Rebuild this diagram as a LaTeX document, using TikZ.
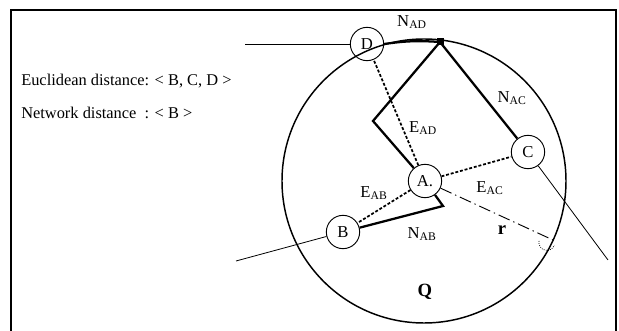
\documentclass[tikz,border=0pt]{standalone}
\usepackage{fontspec}
\setmainfont{Liberation Serif}
\begin{document}
\begin{tikzpicture}[x=0.75pt,y=-0.75pt,
  pt/.style={draw,circle,line width=0.7pt,minimum size=25pt,inner sep=0pt,font=\fontsize{12.5}{13}\selectfont},
  road/.style={line width=0.6pt},
  netroad/.style={line width=1.7pt},
  eucl/.style={line width=1.3pt,dash pattern=on 2.2pt off 1.4pt},
  lab/.style={font=\fontsize{12.5}{13}\selectfont,inner sep=0pt},
  txt/.style={font=\fontsize{12.3}{14}\selectfont,inner sep=0pt,anchor=west}]
\useasboundingbox (0,0) rectangle (619,331);
% frame
\draw[line width=1pt] (11,331) -- (11,10) -- (616,10) -- (616,331);
% region circle
\coordinate (O) at (424,181);
\draw[line width=1.1pt] (O) circle[radius=142];
% coordinates
\coordinate (J) at (440,42);
\coordinate (K) at (373,121);
\coordinate (M) at (443,206);
\coordinate (Dl) at (245,44);
\coordinate (Bl) at (236,261);
\coordinate (Ce) at (608,260);
\coordinate (Re) at (553,240);
% nodes
\node[pt] (D) at (367,44) {D};
\node[pt] (C) at (528,152) {C};
\node[pt] (A) at (425,181) {A.};
\node[pt] (B) at (343,232) {B};
% plain roads
\draw[road] (Dl) -- (D);
\draw[road] (Bl) -- (B);
\draw[road] (C) -- (Ce);
% network paths
\draw[netroad] (D.east) to[bend left=6] (J);
\draw[netroad] (J) -- (C);
\draw[netroad,line join=miter] (J) -- (K) -- (A);
\draw[netroad,line join=miter] (A) -- (M) -- (B);
\fill (J) ++(-3.5,-3.5) rectangle ++(7,7);
% euclidean
\draw[eucl] (A) -- (D);
\draw[eucl] (A) -- (C);
\draw[eucl] (A) -- (B);
% radius
\draw[line width=0.7pt,dash pattern=on 9pt off 3pt on 1pt off 3pt] (A) -- (Re);
\draw[line width=0.6pt,densely dotted] (539,241) arc[start angle=190,end angle=20,radius=8];
% labels
\node[lab] (nad) at (412,22) {N\textsubscript{AD}};
\node[lab] (nac) at (512,98) {N\textsubscript{AC}};
\node[lab] (ead) at (423,128) {E\textsubscript{AD}};
\node[lab] (eab) at (374,193) {E\textsubscript{AB}};
\node[lab] (eac) at (490,188) {E\textsubscript{AC}};
\node[lab] (nab) at (422,234) {N\textsubscript{AB}};
\node[lab,font=\fontsize{14}{15}\selectfont\bfseries] (r) at (502,230) {r};
\node[lab,font=\fontsize{14}{15}\selectfont\bfseries] (q) at (425,292) {Q};
\node[txt] (t1) at (21,81) {Euclidean distance: < B, C, D >};
\node[txt] (t2) at (21,113) {Network distance\ \ : < B >};
\end{tikzpicture}
\end{document}
